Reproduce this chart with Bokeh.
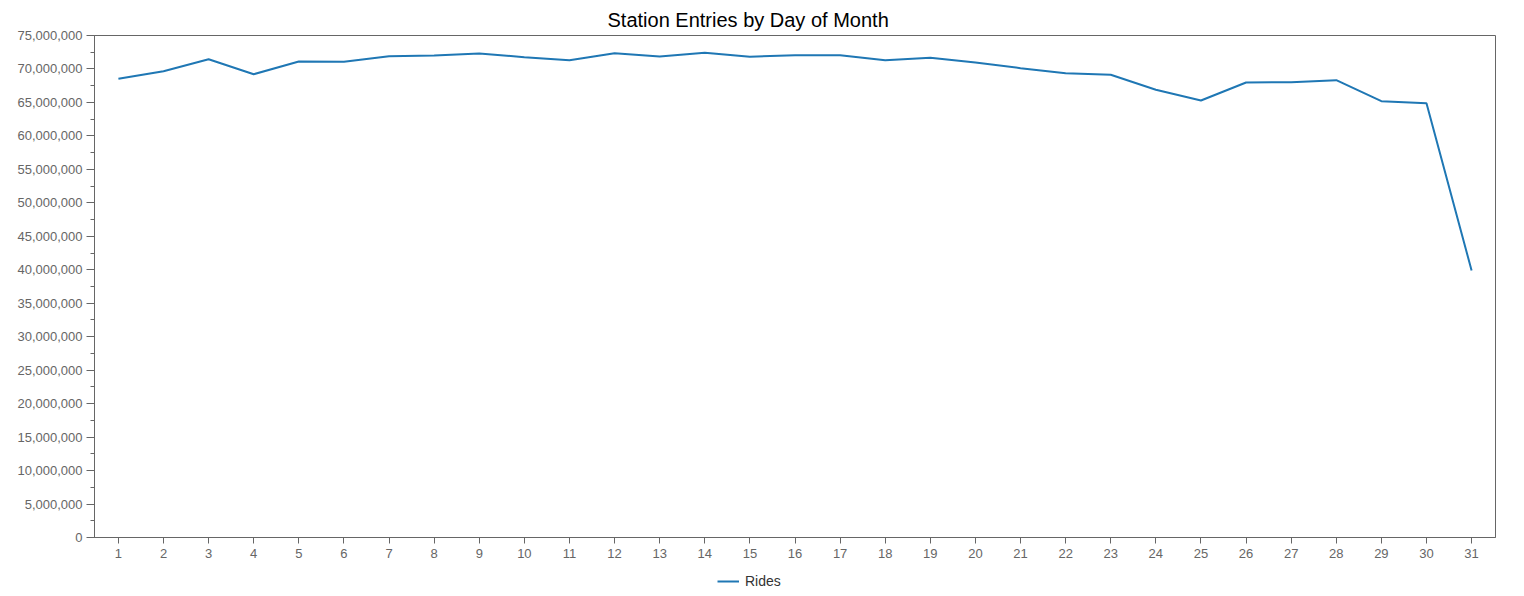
from bokeh.plotting import figure
from bokeh.layouts import column
from bokeh.models import (ColumnDataSource, Range1d, FixedTicker, SingleIntervalTicker,
                          NumeralTickFormatter, Legend, LegendItem, Title)
from bokeh.embed import file_html
from bokeh.resources import INLINE

days = list(range(1, 32))
rides = [68530000, 69670000, 71460000, 69220000, 71120000, 71070000, 71910000, 72010000,
         72310000, 71760000, 71310000, 72360000, 71860000, 72410000, 71820000, 72060000,
         72060000, 71310000, 71670000, 70970000, 70120000, 69370000, 69130000, 66890000,
         65290000, 67980000, 68020000, 68320000, 65190000, 64890000, 39890000]
title_text = "Station Entries by Day of Month"
series_name = "Rides"

src = ColumnDataSource(dict(day=days, rides=rides))

FONT = "Liberation Sans"
GRAY = "#666666"
BLUE = "#1f77b4"

p = figure(frame_width=1401, frame_height=502, output_backend="svg", toolbar_location=None,
           x_range=Range1d(0.47, 31.53), y_range=Range1d(0, 75000000),
           min_border_left=94, min_border_right=20, min_border_top=35, min_border_bottom=27)
p.title = Title(text=title_text, align="left", text_font=FONT, text_font_size="20px",
                text_font_style="normal", text_color="#000000", offset=513, standoff=10)

r = p.line("day", "rides", source=src, line_color=BLUE, line_width=2)

p.xgrid.visible = False
p.ygrid.visible = False
p.outline_line_color = GRAY
p.outline_line_width = 1
p.outline_line_alpha = 1

xa = p.xaxis[0]
xa.ticker = FixedTicker(ticks=days)
xa.axis_line_color = GRAY
xa.major_tick_line_color = GRAY
xa.major_tick_out = 6
xa.major_tick_in = 0
xa.minor_tick_line_color = None
xa.major_label_text_font = FONT
xa.major_label_text_font_size = "13px"
xa.major_label_text_color = GRAY
xa.major_label_standoff = 5

ya = p.yaxis[0]
ya.ticker = SingleIntervalTicker(interval=5000000, num_minor_ticks=2)
ya.formatter = NumeralTickFormatter(format="0,0")
ya.axis_line_color = GRAY
ya.major_tick_line_color = GRAY
ya.minor_tick_line_color = GRAY
ya.major_tick_out = 8
ya.major_tick_in = 0
ya.minor_tick_out = 4
ya.minor_tick_in = 0
ya.major_label_text_font = FONT
ya.major_label_text_font_size = "13px"
ya.major_label_text_color = GRAY
ya.major_label_standoff = 4

# legend strip below the chart (its proxy line is the same series, clipped out of view)
p2 = figure(frame_width=1401, frame_height=34, output_backend="svg", toolbar_location=None,
            x_axis_location=None, y_axis_location=None,
            x_range=Range1d(0, 0.5), y_range=Range1d(0, 1),
            min_border_left=94, min_border_right=20, min_border_top=0, min_border_bottom=0)
p2.grid.visible = False
p2.outline_line_color = None
r2 = p2.line("day", "rides", source=src, line_color=BLUE, line_width=2)

legend = Legend(items=[LegendItem(label=series_name, renderers=[r2])],
                location=(623, 9), orientation="horizontal",
                label_text_font=FONT, label_text_font_size="14px", label_text_color="#333333",
                border_line_color=None, background_fill_alpha=0,
                glyph_width=22, glyph_height=16, label_standoff=6, padding=0, margin=0)
p2.add_layout(legend, "center")

layout = column(p, p2, spacing=0)
open("out.html", "w").write(file_html(layout, INLINE))
